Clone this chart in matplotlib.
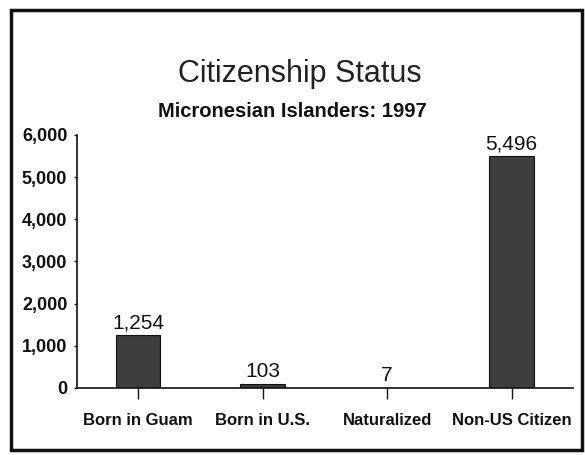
import matplotlib
matplotlib.use('Agg')
import matplotlib.pyplot as plt
from matplotlib.patches import Rectangle
from matplotlib.ticker import FuncFormatter

categories = ['Born in Guam', 'Born in U.S.', 'Naturalized', 'Non-US Citizen']
counts = [1254, 103, 7, 5496]
y_ticks = [0, 1000, 2000, 3000, 4000, 5000, 6000]

plt.rcParams['font.family'] = ['Liberation Sans', 'DejaVu Sans']

fig = plt.figure(figsize=(5.85, 4.55), dpi=100)
fig.patch.set_facecolor('white')
ax = fig.add_axes([0.1316, 0.1473, 0.8474, 0.556])

x = list(range(len(categories)))
bars = ax.bar(x, counts, width=0.36, color='#3d3d3d', edgecolor='#111111',
              linewidth=0.8, zorder=2)

for xi, v in zip(x, counts):
    ax.text(xi, v + 60, f'{v:,}', ha='center', va='bottom', fontsize=15,
            color='#111111')

ax.set_xlim(-0.49, 3.49)
ax.set_ylim(0, 6000)
ax.set_yticks(y_ticks)
ax.yaxis.set_major_formatter(FuncFormatter(lambda v, p: f'{int(v):,}'))
ax.set_xticks(x)
ax.set_xticklabels(categories)

for lbl in ax.get_yticklabels():
    lbl.set_fontweight('bold')
    lbl.set_fontsize(13)
for lbl in ax.get_xticklabels():
    lbl.set_fontweight('bold')
    lbl.set_fontsize(12)

ax.tick_params(axis='y', length=2, width=1, pad=5, colors='#111111')
ax.tick_params(axis='x', length=8, width=1, pad=10, colors='#111111')

for s in ['top', 'right']:
    ax.spines[s].set_visible(False)
for s in ['left', 'bottom']:
    ax.spines[s].set_linewidth(1.2)
    ax.spines[s].set_color('#111111')

fig.text(0.513, 0.838, 'Citizenship Status', ha='center', va='center',
         fontsize=22, color='#222222')
fig.text(0.5, 0.754, 'Micronesian Islanders: 1997', ha='center', va='center',
         fontsize=14.5, fontweight='bold', color='#111111')

# outer frame around the whole chart
frame = Rectangle((11 / 585, 1 - 450 / 455), 571 / 585, 440 / 455,
                  transform=fig.transFigure, fill=False, edgecolor='#111111',
                  linewidth=2.5)
fig.patches.append(frame)

fig.savefig('out.png', dpi=100, facecolor='white')
plt.close(fig)
